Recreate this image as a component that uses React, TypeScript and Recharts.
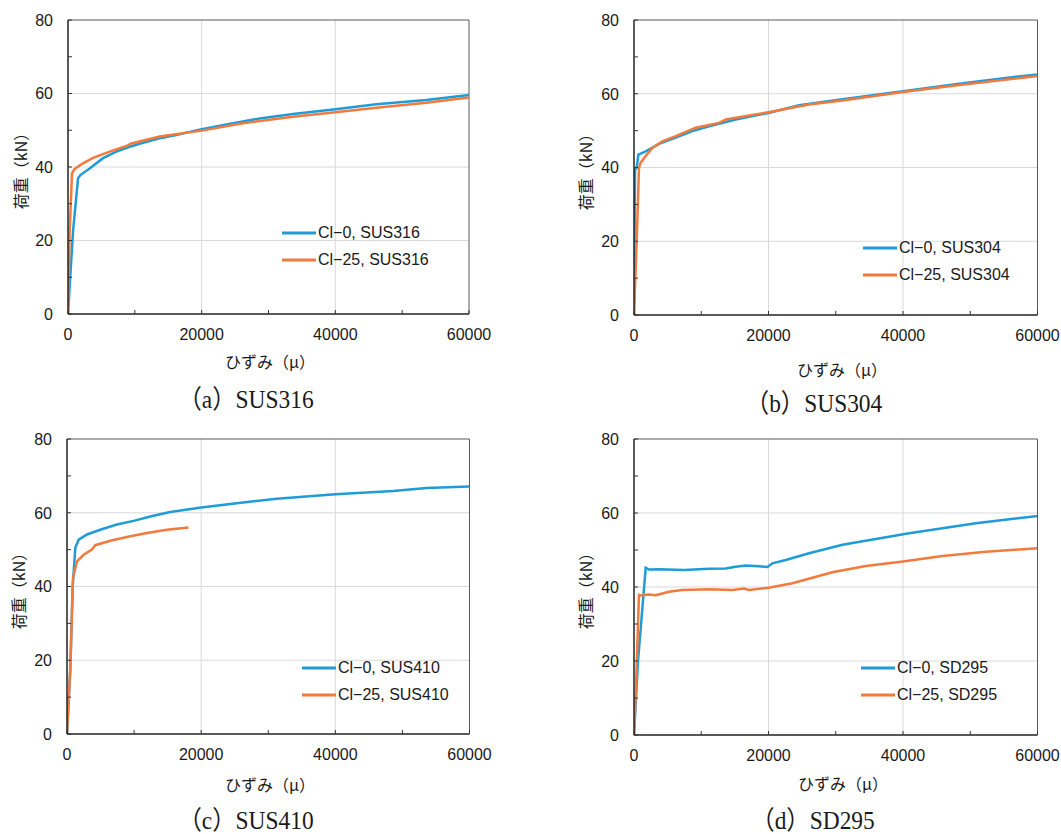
import React from 'react';
import { LineChart, Line, XAxis, YAxis, ReferenceLine, Legend } from 'recharts';

// ---------- axis ticks ----------
const xTicks = [0, 10000, 20000, 30000, 40000, 50000, 60000];
const xLabelTicks = [0, 20000, 40000, 60000];
const yTicks = [0, 10, 20, 30, 40, 50, 60, 70, 80];
const yLabelTicks = [0, 20, 40, 60, 80];
const xGridValues = [20000, 40000];
const yGridValues = [20, 40, 60];

// ---------- (a) SUS316 ----------
const sus316Cl0Strain = [0, 750, 1500, 1850, 3240, 5240, 7230, 9230, 11220, 13700, 16200, 20000, 23690, 28680, 33670, 40000, 46130, 53620, 60000];
const sus316Cl0Load = [0, 22.4, 36.9, 37.8, 39.6, 42.4, 44.2, 45.5, 46.6, 47.8, 48.7, 50.3, 51.6, 53.2, 54.4, 55.7, 57.1, 58.2, 59.6];
const sus316Cl25Strain = [0, 250, 600, 1000, 2240, 3740, 6230, 8730, 9480, 13700, 20000, 26180, 33670, 40000, 46130, 53620, 60000];
const sus316Cl25Load = [0, 22.4, 38.3, 39.5, 41.0, 42.5, 44.2, 45.7, 46.4, 48.3, 49.9, 51.9, 53.7, 54.9, 56.1, 57.5, 58.9];

// ---------- (b) SUS304 ----------
const sus304Cl0Strain = [0, 150, 400, 650, 1740, 3720, 6200, 8680, 11160, 15120, 20000, 24550, 31000, 40000, 48350, 55290, 60000];
const sus304Cl0Load = [0, 39.5, 39.9, 43.5, 44.4, 46.4, 48.1, 49.9, 51.2, 53.0, 54.8, 56.9, 58.5, 60.7, 62.7, 64.3, 65.2];
const sus304Cl25Strain = [0, 400, 740, 990, 1740, 2730, 4210, 6200, 9170, 12640, 13640, 20000, 26030, 31000, 40000, 48350, 60000];
const sus304Cl25Load = [0, 20, 39.9, 41.3, 43.1, 45.3, 47.1, 48.5, 50.8, 52.1, 53.0, 55.0, 57.1, 58.2, 60.5, 62.4, 64.8];

// ---------- (c) SUS410 ----------
const sus410Cl0Strain = [0, 500, 850, 1240, 1740, 2980, 4960, 7440, 9930, 12410, 15380, 20000, 25310, 31270, 40000, 48630, 53600, 60000];
const sus410Cl0Load = [0, 18, 40, 50.5, 52.7, 54.1, 55.4, 56.8, 57.8, 59.0, 60.2, 61.4, 62.6, 63.8, 65.0, 65.9, 66.7, 67.1];
const sus410Cl25Strain = [0, 500, 890, 1490, 2480, 3720, 4220, 6450, 8930, 11910, 14890, 18110];
const sus410Cl25Load = [0, 18.0, 42.3, 46.8, 48.6, 50.0, 51.2, 52.4, 53.4, 54.5, 55.4, 56.0];

// ---------- (d) SD295 ----------
const sd295Cl0Strain = [0, 600, 1740, 2230, 3720, 7440, 11160, 13640, 15120, 16610, 18600, 19840, 20580, 22560, 26030, 31000, 35950, 40910, 45870, 50830, 55790, 60000];
const sd295Cl0Load = [0, 20, 45.2, 44.7, 44.8, 44.6, 44.9, 45.0, 45.5, 45.8, 45.6, 45.4, 46.4, 47.3, 49.1, 51.4, 53.0, 54.5, 55.9, 57.2, 58.3, 59.2];
const sd295Cl25Strain = [0, 250, 740, 890, 2230, 3220, 5210, 7190, 11160, 14630, 16360, 17110, 20000, 23550, 29500, 34460, 40000, 45870, 52310, 60000];
const sd295Cl25Load = [0, 10.8, 37.8, 37.7, 38.0, 37.8, 38.7, 39.2, 39.4, 39.2, 39.6, 39.2, 39.8, 41.0, 44.0, 45.7, 46.9, 48.4, 49.5, 50.5];

// ---------- text ----------
const panelCaptions = ['（a）SUS316', '（b）SUS304', '（c）SUS410', '（d）SD295'];
const cl0Names = ['Cl−0, SUS316', 'Cl−0, SUS304', 'Cl−0, SUS410', 'Cl−0, SD295'];
const cl25Names = ['Cl−25, SUS316', 'Cl−25, SUS304', 'Cl−25, SUS410', 'Cl−25, SD295'];
const xAxisTitle = 'ひずみ（μ）';
const yAxisTitle = '荷重（kN）';

// ---------- style ----------
const BLUE = '#1f9cd8';
const ORANGE = '#f27a3d';
const GRID = '#d9d9d9';
const FONT_SANS = '"Liberation Sans", Arial, sans-serif';
const FONT_JP = '"Noto Sans CJK JP", "Noto Sans", sans-serif';
const FONT_SERIF = '"Liberation Serif", "Noto Sans CJK JP", serif';
const TICK_MARGIN = 15;
const TICK_LEN = 4;
const TEXT_COLOR = '#1a1a1a';

const toPoints = (xs: number[], ys: number[]) => xs.map((s, i) => ({ strain: s, load: ys[i] }));

const XTick = (props: any) => {
  const { x, y, payload } = props;
  const axisY = y - TICK_MARGIN;
  const v = payload.value;
  return (
    <g>
      <line x1={x} x2={x} y1={axisY} y2={axisY - TICK_LEN} stroke="#333" strokeWidth={1} />
      {xLabelTicks.includes(v) && (
        <text x={x} y={y} dy="0.71em" textAnchor="middle" fontSize={16} fontFamily={FONT_SANS} fill={TEXT_COLOR}>
          {v}
        </text>
      )}
    </g>
  );
};

const YTick = (props: any) => {
  const { x, y, payload } = props;
  const axisX = x + TICK_MARGIN;
  const v = payload.value;
  return (
    <g>
      <line x1={axisX} x2={axisX + TICK_LEN} y1={y} y2={y} stroke="#333" strokeWidth={1} />
      {yLabelTicks.includes(v) && (
        <text x={x} y={y} dy="0.36em" textAnchor="end" fontSize={16} fontFamily={FONT_SANS} fill={TEXT_COLOR}>
          {v}
        </text>
      )}
    </g>
  );
};

const LegendContent = (props: any) => {
  const { payload } = props;
  return (
    <div style={{ display: 'flex', flexDirection: 'column' }}>
      {(payload || []).map((entry: any) => (
        <div key={entry.value} style={{ display: 'flex', alignItems: 'center', height: 27 }}>
          <svg width={34} height={4} style={{ display: 'block' }}>
            <line x1={0} x2={34} y1={2} y2={2} stroke={entry.color} strokeWidth={3} />
          </svg>
          <span style={{ marginLeft: 2, fontSize: 16, fontFamily: FONT_SANS, color: TEXT_COLOR, whiteSpace: 'nowrap', lineHeight: '27px' }}>
            {entry.value}
          </span>
        </div>
      ))}
    </div>
  );
};

type PanelProps = {
  left: number;
  top: number;
  width: number;
  height: number;
  yAxisWidth: number;
  marginTop: number;
  marginRight: number;
  xAxisHeight: number;
  legendLeft: number;
  legendTop: number;
  cl0: { strain: number; load: number }[];
  cl25: { strain: number; load: number }[];
  cl0Name: string;
  cl25Name: string;
};

const Panel = (p: PanelProps) => (
  <div style={{ position: 'absolute', left: p.left, top: p.top }}>
    <LineChart
      width={p.width}
      height={p.height}
      margin={{ top: p.marginTop, right: p.marginRight, left: 0, bottom: 0 }}
      style={{ overflow: 'visible' }}
    >
      <XAxis
        type="number"
        dataKey="strain"
        domain={[0, 60000]}
        ticks={xTicks}
        interval={0}
        tick={<XTick />}
        tickLine={false}
        tickSize={0}
        tickMargin={TICK_MARGIN}
        height={p.xAxisHeight}
        axisLine={{ stroke: '#222', strokeWidth: 1.5 }}
        allowDataOverflow
      />
      <YAxis
        type="number"
        domain={[0, 80]}
        ticks={yTicks}
        interval={0}
        tick={<YTick />}
        tickLine={false}
        tickSize={0}
        tickMargin={TICK_MARGIN}
        width={p.yAxisWidth}
        axisLine={{ stroke: '#222', strokeWidth: 1.5 }}
        allowDataOverflow
      />
      {xGridValues.map((v) => (
        <ReferenceLine key={'gx' + v} x={v} stroke={GRID} strokeWidth={1} />
      ))}
      {yGridValues.map((v) => (
        <ReferenceLine key={'gy' + v} y={v} stroke={GRID} strokeWidth={1} />
      ))}
      <ReferenceLine y={80} stroke="#595959" strokeWidth={1} />
      <ReferenceLine x={60000} stroke="#595959" strokeWidth={1} />
      <Line
        data={p.cl0}
        dataKey="load"
        name={p.cl0Name}
        type="linear"
        stroke={BLUE}
        strokeWidth={2.5}
        dot={false}
        isAnimationActive={false}
      />
      <Line
        data={p.cl25}
        dataKey="load"
        name={p.cl25Name}
        type="linear"
        stroke={ORANGE}
        strokeWidth={2.5}
        dot={false}
        isAnimationActive={false}
      />
      <Legend
        layout="vertical"
        align="center"
        verticalAlign="middle"
        content={<LegendContent />}
        wrapperStyle={{ left: p.legendLeft, top: p.legendTop, width: 'auto', height: 'auto' }}
      />
    </LineChart>
  </div>
);

const CenterText = ({ x, y, text, font, size, rotate, squeeze }: { x: number; y: number; text: string; font: string; size: number; rotate?: boolean; squeeze?: number }) => (
  <div
    style={{
      position: 'absolute',
      left: x,
      top: y,
      transform: `translate(-50%, -50%)${rotate ? ' rotate(-90deg)' : ''}${squeeze ? ` scaleX(${squeeze})` : ''}`,
      fontFamily: font,
      fontSize: size,
      color: TEXT_COLOR,
      whiteSpace: 'nowrap',
      lineHeight: 1,
    }}
  >
    {text}
  </div>
);

export default function App() {
  return (
    <div style={{ position: 'absolute', left: 0, top: 0, width: 1061, height: 834, background: '#fff', overflow: 'hidden' }}>
      <Panel
        left={0} top={0} width={500} height={350}
        yAxisWidth={68} marginTop={20} marginRight={31} xAxisHeight={36}
        legendLeft={282} legendTop={219}
        cl0={toPoints(sus316Cl0Strain, sus316Cl0Load)}
        cl25={toPoints(sus316Cl25Strain, sus316Cl25Load)}
        cl0Name={cl0Names[0]} cl25Name={cl25Names[0]}
      />
      <Panel
        left={560} top={0} width={501} height={350}
        yAxisWidth={74} marginTop={20} marginRight={23.5} xAxisHeight={35}
        legendLeft={303} legendTop={234}
        cl0={toPoints(sus304Cl0Strain, sus304Cl0Load)}
        cl25={toPoints(sus304Cl25Strain, sus304Cl25Load)}
        cl0Name={cl0Names[1]} cl25Name={cl25Names[1]}
      />
      <Panel
        left={0} top={420} width={500} height={350}
        yAxisWidth={67} marginTop={19} marginRight={30.5} xAxisHeight={36}
        legendLeft={302} legendTop={234}
        cl0={toPoints(sus410Cl0Strain, sus410Cl0Load)}
        cl25={toPoints(sus410Cl25Strain, sus410Cl25Load)}
        cl0Name={cl0Names[2]} cl25Name={cl25Names[2]}
      />
      <Panel
        left={560} top={420} width={501} height={350}
        yAxisWidth={74} marginTop={19} marginRight={23.5} xAxisHeight={35}
        legendLeft={301} legendTop={234}
        cl0={toPoints(sd295Cl0Strain, sd295Cl0Load)}
        cl25={toPoints(sd295Cl25Strain, sd295Cl25Load)}
        cl0Name={cl0Names[3]} cl25Name={cl25Names[3]}
      />

      <CenterText x={20} y={167} text={yAxisTitle} font={FONT_JP} size={16} rotate />
      <CenterText x={585} y={168} text={yAxisTitle} font={FONT_JP} size={16} rotate />
      <CenterText x={18} y={587} text={yAxisTitle} font={FONT_JP} size={16} rotate />
      <CenterText x={585} y={587} text={yAxisTitle} font={FONT_JP} size={16} rotate />

      <CenterText x={270} y={361} text={xAxisTitle} font={FONT_JP} size={16} />
      <CenterText x={842} y={369} text={xAxisTitle} font={FONT_JP} size={16} />
      <CenterText x={270} y={784} text={xAxisTitle} font={FONT_JP} size={16} />
      <CenterText x={843} y={783} text={xAxisTitle} font={FONT_JP} size={16} />

      <CenterText x={246} y={400} text={panelCaptions[0]} font={FONT_SERIF} size={26} squeeze={0.9} />
      <CenterText x={814} y={404} text={panelCaptions[1]} font={FONT_SERIF} size={26} squeeze={0.9} />
      <CenterText x={246} y={821} text={panelCaptions[2]} font={FONT_SERIF} size={26} squeeze={0.9} />
      <CenterText x={813} y={821} text={panelCaptions[3]} font={FONT_SERIF} size={26} squeeze={0.9} />
    </div>
  );
}
